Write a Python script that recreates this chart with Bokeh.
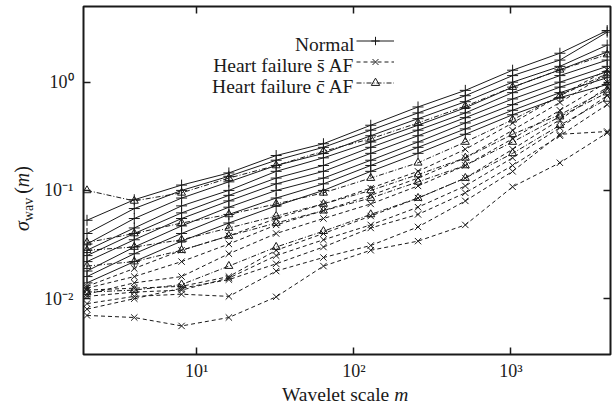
from bokeh.plotting import figure
from bokeh.models import (FixedTicker, CustomJSTickFormatter, LogAxis, Label,
                          Legend, LegendItem, Range1d, Div)
from bokeh.layouts import row, column
from bokeh.embed import file_html
from bokeh.resources import INLINE

# wavelet scales m
scales = [2, 4, 8, 16, 32, 64, 128, 256, 512, 1024, 2048, 4096]

# Normal subjects (solid, +)
normal = [
    [0.053, 0.082, 0.112, 0.145, 0.21, 0.27, 0.40, 0.59, 0.84, 1.29, 1.85, 3.0],
    [0.040, 0.068, 0.100, 0.135, 0.19, 0.25, 0.36, 0.52, 0.75, 1.15, 1.60, 2.9],
    [0.032, 0.055, 0.085, 0.120, 0.17, 0.22, 0.32, 0.46, 0.66, 1.00, 1.40, 2.2],
    [0.028, 0.045, 0.072, 0.100, 0.15, 0.20, 0.28, 0.40, 0.58, 0.90, 1.30, 1.9],
    [0.025, 0.040, 0.062, 0.090, 0.13, 0.17, 0.25, 0.36, 0.52, 0.80, 1.15, 1.6],
    [0.022, 0.035, 0.055, 0.080, 0.115, 0.15, 0.22, 0.32, 0.47, 0.70, 1.00, 1.4],
    [0.018, 0.030, 0.047, 0.070, 0.100, 0.13, 0.19, 0.28, 0.42, 0.62, 0.90, 1.25],
    [0.016, 0.026, 0.040, 0.060, 0.085, 0.115, 0.17, 0.25, 0.37, 0.55, 0.80, 1.1],
    [0.014, 0.022, 0.034, 0.050, 0.072, 0.100, 0.15, 0.22, 0.33, 0.50, 0.72, 0.95],
]

# Heart failure without AF (dashed, x)
hf_sine_af = [
    [0.0070, 0.0067, 0.0056, 0.0067, 0.0104, 0.020, 0.028, 0.034, 0.048, 0.108, 0.18, 0.34],
    [0.0090, 0.0105, 0.0110, 0.0105, 0.018, 0.024, 0.031, 0.046, 0.080, 0.15, 0.33, 0.35],
    [0.0105, 0.0115, 0.0120, 0.0155, 0.025, 0.035, 0.048, 0.070, 0.11, 0.20, 0.38, 0.75],
    [0.0120, 0.0125, 0.0130, 0.0160, 0.028, 0.040, 0.058, 0.085, 0.13, 0.24, 0.45, 0.90],
    [0.0110, 0.0140, 0.0160, 0.026, 0.040, 0.055, 0.075, 0.11, 0.17, 0.30, 0.55, 1.0],
    [0.0125, 0.0160, 0.022, 0.032, 0.048, 0.065, 0.090, 0.13, 0.20, 0.36, 0.65, 1.2],
    [0.0130, 0.0190, 0.028, 0.038, 0.055, 0.075, 0.105, 0.15, 0.24, 0.42, 0.75, 1.3],
    [0.0080, 0.0100, 0.0125, 0.0150, 0.021, 0.030, 0.045, 0.060, 0.095, 0.17, 0.32, 0.62],
]

# Heart failure with AF (dash-dot, triangle)
hf_cum_af = [
    [0.100, 0.080, 0.095, 0.13, 0.17, 0.23, 0.30, 0.42, 0.60, 0.90, 1.30, 1.8],
    [0.033, 0.040, 0.050, 0.060, 0.075, 0.095, 0.13, 0.18, 0.28, 0.45, 0.75, 1.2],
    [0.028, 0.030, 0.035, 0.045, 0.058, 0.075, 0.10, 0.14, 0.20, 0.33, 0.50, 0.85],
    [0.020, 0.022, 0.028, 0.038, 0.050, 0.065, 0.085, 0.12, 0.17, 0.28, 0.48, 0.80],
    [0.0115, 0.012, 0.0135, 0.020, 0.030, 0.042, 0.060, 0.085, 0.13, 0.22, 0.40, 0.70],
]

x_ticks = [10, 100, 1000]
y_ticks = [0.01, 0.1, 1]
legend_labels = ["Normal", "Heart failure s\u0304 AF", "Heart failure c\u0304 AF"]

FONT = "Liberation Serif"
INK = "#1a1a1a"

p = figure(width=574, height=383, x_axis_type="log", y_axis_type="log",
           x_range=Range1d(1.9, 4300), y_range=Range1d(0.00305, 5.0),
           output_backend="svg", toolbar_location=None,
           min_border_left=43, min_border_right=4, min_border_top=6, min_border_bottom=28)
p.background_fill_color = "white"
p.border_fill_color = "white"
p.outline_line_color = INK
p.outline_line_width = 2
p.xgrid.visible = False
p.ygrid.visible = False

sup_code = """
const e = Math.round(Math.log10(tick));
const m = {"-":"\\u207b","0":"\\u2070","1":"\\u00b9","2":"\\u00b2","3":"\\u00b3","4":"\\u2074"};
return "10" + String(e).split("").map(c => m[c]).join("");
"""

for ax, ticks in ((p.xaxis[0], x_ticks), (p.yaxis[0], y_ticks)):
    ax.ticker = FixedTicker(ticks=ticks)
    ax.formatter = CustomJSTickFormatter(code=sup_code)
    ax.major_tick_in = 7
    ax.major_tick_out = 0
    ax.major_tick_line_color = INK
    ax.major_tick_line_width = 1.5
    ax.minor_tick_line_color = None
    ax.axis_line_color = None
    ax.major_label_text_font = FONT
    ax.major_label_text_font_size = "18px"
    ax.major_label_text_color = INK
p.xaxis[0].major_label_standoff = 6
p.yaxis[0].major_label_standoff = 10

for loc, ticks in (("above", x_ticks), ("right", y_ticks)):
    ax = LogAxis(ticker=FixedTicker(ticks=ticks),
                 formatter=CustomJSTickFormatter(code="return '';"),
                 major_tick_in=7, major_tick_out=0, major_tick_line_color=INK,
                 major_tick_line_width=1.5, minor_tick_line_color=None,
                 axis_line_color=None, major_label_standoff=0,
                 major_label_text_font_size="1px")
    p.add_layout(ax, loc)

first = {}
for vals in normal:
    l = p.line(scales, vals, line_color=INK, line_width=1)
    s = p.scatter(scales, vals, marker="cross", size=11, line_color=INK, line_width=1)
    first.setdefault("n", [l, s])
for vals in hf_sine_af:
    l = p.line(scales, vals, line_color=INK, line_width=1, line_dash="4 3")
    s = p.scatter(scales, vals, marker="x", size=9, line_color=INK, line_width=1)
    first.setdefault("s", [l, s])
for vals in hf_cum_af:
    l = p.line(scales, vals, line_color=INK, line_width=1, line_dash="5 2 1 2")
    s = p.scatter(scales, vals, marker="triangle", size=8, line_color=INK,
                  fill_alpha=0, line_width=1)
    first.setdefault("c", [l, s])

legend = Legend(items=[LegendItem(label=" ", renderers=first["n"]),
                       LegendItem(label=" ", renderers=first["s"]),
                       LegendItem(label=" ", renderers=first["c"])],
                location=(273, 261), orientation="vertical",
                glyph_width=38, glyph_height=21, label_height=21, label_width=1,
                label_standoff=0, spacing=0, padding=0, margin=0,
                border_line_color=None, background_fill_alpha=0,
                label_text_font_size="10px")
p.add_layout(legend, "center")

# legend texts (right aligned, before the samples)
for i, txt in enumerate(legend_labels):
    p.add_layout(Label(x=271, y=310 - 21 * i, x_units="screen", y_units="screen",
                       text=txt, text_align="right", text_baseline="middle",
                       text_font=FONT, text_font_size="19.5px", text_color=INK))

font_css = "font-family:'Liberation Serif',serif;color:#1a1a1a;white-space:nowrap;"

ylab = Div(width=40, height=413, margin=0, text=(
    "<div style='position:relative;width:40px;height:413px;'>"
    "<div style=\"position:absolute;left:12px;top:231px;transform:rotate(-90deg);"
    "transform-origin:left top;line-height:20px;font-size:20px;" + font_css + "\">"
    "<i>\u03c3</i><span style='font-size:14px;position:relative;top:4px;'>wav</span>"
    "&thinsp;(<i>m</i>)</div></div>"))

xlab = Div(width=574, height=30, margin=0, text=(
    "<div style=\"margin-left:242px;margin-top:2px;line-height:20px;font-size:19.5px;"
    + font_css + "\">Wavelet scale <i>m</i></div>"))

layout = row(ylab, column(p, xlab, spacing=0), spacing=0)

open("out.html", "w").write(file_html(layout, INLINE))
